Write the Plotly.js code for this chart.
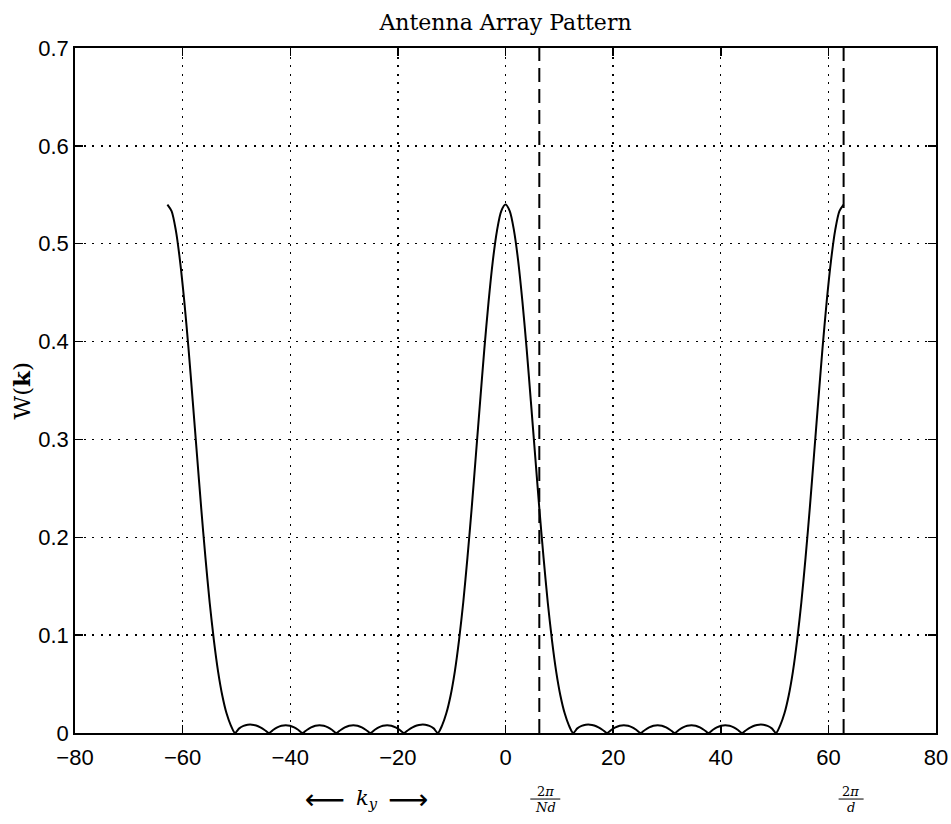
<!DOCTYPE html>
<html>
<head>
<meta charset="utf-8">
<script src="https://cdn.plot.ly/plotly-3.0.1.min.js"></script>
<style>
html,body{margin:0;padding:0;background:#fff;}
#chart{width:951px;height:824px;}
</style>
</head>
<body>
<div id="chart"></div>
<script>
// wavenumber samples k_y
const kValues = [
-62.83,-62.05,-61.26,-60.48,-59.69,-58.90,-58.12,-57.33,-56.55,-55.76,
-54.98,-54.19,-53.41,-52.62,-51.84,-51.05,-50.27,-49.48,-48.69,-47.91,
-47.12,-46.34,-45.55,-44.77,-43.98,-43.20,-42.41,-41.63,-40.84,-40.06,
-39.27,-38.48,-37.70,-36.91,-36.13,-35.34,-34.56,-33.77,-32.99,-32.20,
-31.42,-30.63,-29.85,-29.06,-28.27,-27.49,-26.70,-25.92,-25.13,-24.35,
-23.56,-22.78,-21.99,-21.21,-20.42,-19.63,-18.85,-18.06,-17.28,-16.49,
-15.71,-14.92,-14.14,-13.35,-12.57,-11.78,-11.00,-10.21,-9.42,-8.64,
-7.85,-7.07,-6.28,-5.50,-4.71,-3.93,-3.14,-2.36,-1.57,-0.79,
0,
0.79,1.57,2.36,3.14,3.93,4.71,5.50,6.28,7.07,7.85,
8.64,9.42,10.21,11.00,11.78,12.57,13.35,14.14,14.92,15.71,
16.49,17.28,18.06,18.85,19.63,20.42,21.21,21.99,22.78,23.56,
24.35,25.13,25.92,26.70,27.49,28.27,29.06,29.85,30.63,31.42,
32.20,32.99,33.77,34.56,35.34,36.13,36.91,37.70,38.48,39.27,
40.06,40.84,41.63,42.41,43.20,43.98,44.77,45.55,46.34,47.12,
47.91,48.69,49.48,50.27,51.05,51.84,52.62,53.41,54.19,54.98,
55.76,56.55,57.33,58.12,58.90,59.69,60.48,61.26,62.05,62.83
];

// pattern magnitude W(k)
const wValues = [
0.540,0.5333,0.5137,0.4823,0.4411,0.3925,0.3392,0.2841,0.2300,0.1792,
0.1336,0.0946,0.0628,0.0381,0.0201,0.0078,0,0.0047,0.0072,0.0084,
0.0085,0.0076,0.0057,0.0031,0,0.0031,0.0057,0.0074,0.0080,0.0074,
0.0057,0.0031,0,0.0031,0.0057,0.0074,0.0080,0.0074,0.0057,0.0031,
0,0.0031,0.0057,0.0074,0.0080,0.0074,0.0057,0.0031,0,0.0031,
0.0057,0.0074,0.0080,0.0074,0.0057,0.0031,0,0.0031,0.0057,0.0076,
0.0085,0.0084,0.0072,0.0047,0,0.0078,0.0201,0.0381,0.0628,0.0946,
0.1336,0.1792,0.2300,0.2841,0.3392,0.3925,0.4411,0.4823,0.5137,0.5333,
0.540,
0.5333,0.5137,0.4823,0.4411,0.3925,0.3392,0.2841,0.2300,0.1792,0.1336,
0.0946,0.0628,0.0381,0.0201,0.0078,0,0.0047,0.0072,0.0084,0.0085,
0.0076,0.0057,0.0031,0,0.0031,0.0057,0.0074,0.0080,0.0074,0.0057,
0.0031,0,0.0031,0.0057,0.0074,0.0080,0.0074,0.0057,0.0031,0,
0.0031,0.0057,0.0074,0.0080,0.0074,0.0057,0.0031,0,0.0031,0.0057,
0.0074,0.0080,0.0074,0.0057,0.0031,0,0.0031,0.0057,0.0076,0.0085,
0.0084,0.0072,0.0047,0,0.0078,0.0201,0.0381,0.0628,0.0946,0.1336,
0.1792,0.2300,0.2841,0.3392,0.3925,0.4411,0.4823,0.5137,0.5333,0.540
];

// reference wavenumbers 2pi/(Nd) and 2pi/d
const markerK = [6.2832, 62.832];
const markerNumerators = ['2<i>π</i>', '2<i>π</i>'];
const markerDenominators = ['<i>Nd</i>', '<i>d</i>'];

const xRange = [-80, 80];
const yRange = [0, 0.7];
const xTicks = [-80, -60, -40, -20, 0, 20, 40, 60, 80];
const yTicks = [0, 0.1, 0.2, 0.3, 0.4, 0.5, 0.6, 0.7];
const xTickText = ['−80', '−60', '−40', '−20', '0', '20', '40', '60', '80'];
const yTickText = ['0', '0.1', '0.2', '0.3', '0.4', '0.5', '0.6', '0.7'];

const serif = 'DejaVu Serif, Liberation Serif, serif';
const sans = 'Liberation Sans, Arial, Helvetica, sans-serif';
const arrowFont = {family: 'DejaVu Sans, DejaVu Serif, sans-serif', size: 28, color: '#000'};

const traces = [{
  type: 'scatter', mode: 'lines',
  x: kValues, y: wValues,
  line: {color: '#000', width: 2, shape: 'spline', smoothing: 0.8},
  hoverinfo: 'skip', showlegend: false
}];
markerK.forEach(k => {
  traces.push({
    type: 'scatter', mode: 'lines',
    x: [k, k], y: yRange,
    line: {color: '#000', width: 2, dash: '14px,7px'},
    hoverinfo: 'skip', showlegend: false
  });
});

// label vertical positions (paper units below the plot)
const numY = -0.0847, denY = -0.1088, barY = -0.0964;
const annotations = [
  {xref: 'paper', yref: 'paper', x: 0, y: 0.5, xshift: -54, textangle: -90,
   text: 'W(<b>k</b>)', showarrow: false, xanchor: 'center', yanchor: 'middle',
   font: {family: serif, size: 23, color: '#000'}},
  {xref: 'x', yref: 'paper', x: -25.7, y: barY, text: '<i>k<sub>y</sub></i>',
   showarrow: false, xanchor: 'center', yanchor: 'middle',
   font: {family: serif, size: 21, color: '#000'}},
  {xref: 'x', yref: 'paper', x: -33.6, y: barY, text: '⟵',
   showarrow: false, xanchor: 'center', yanchor: 'middle', font: arrowFont},
  {xref: 'x', yref: 'paper', x: -18.2, y: barY, text: '⟶',
   showarrow: false, xanchor: 'center', yanchor: 'middle', font: arrowFont}
];
const barOffsets = [[-9, 21], [-5, 20]];
const labelShift = [6, 7];
const shapes = [];
markerK.forEach((k, i) => {
  annotations.push({xref: 'x', yref: 'paper', x: k, xshift: labelShift[i], y: numY,
    text: markerNumerators[i], showarrow: false, xanchor: 'center', yanchor: 'middle',
    font: {family: serif, size: 13, color: '#000'}});
  annotations.push({xref: 'x', yref: 'paper', x: k, xshift: labelShift[i], y: denY,
    text: markerDenominators[i], showarrow: false, xanchor: 'center', yanchor: 'middle',
    font: {family: serif, size: 13, color: '#000'}});
  shapes.push({type: 'line', xref: 'x', yref: 'paper', xsizemode: 'pixel', xanchor: k,
    x0: barOffsets[i][0], x1: barOffsets[i][1], y0: barY, y1: barY,
    line: {color: '#000', width: 1}});
});

const axisCommon = {
  showline: true, linecolor: '#000', linewidth: 1.8, mirror: 'ticks',
  ticks: 'inside', ticklen: 8, tickwidth: 1.5, tickcolor: '#000',
  showgrid: true, gridcolor: '#000', gridwidth: 1.3, griddash: '2px,6.5px',
  zeroline: false, tickfont: {family: sans, size: 22, color: '#000'},
  fixedrange: true
};

const layout = {
  width: 951, height: 824,
  margin: {l: 75, r: 15, t: 48, b: 91},
  paper_bgcolor: '#fff', plot_bgcolor: '#fff',
  title: {text: 'Antenna Array Pattern', x: 0.5, xref: 'paper', y: 1 - 22/824,
          yref: 'container', yanchor: 'middle', xanchor: 'center',
          font: {family: serif, size: 22, color: '#000'}},
  xaxis: Object.assign({}, axisCommon, {range: xRange, tickvals: xTicks, ticktext: xTickText,
          ticklabelstandoff: 4}),
  yaxis: Object.assign({}, axisCommon, {range: yRange, tickvals: yTicks, ticktext: yTickText,
          ticklabelstandoff: 0}),
  annotations: annotations,
  shapes: shapes,
  hovermode: false,
  showlegend: false
};

Plotly.newPlot('chart', traces, layout, {displayModeBar: false, staticPlot: true});
</script>
</body>
</html>
